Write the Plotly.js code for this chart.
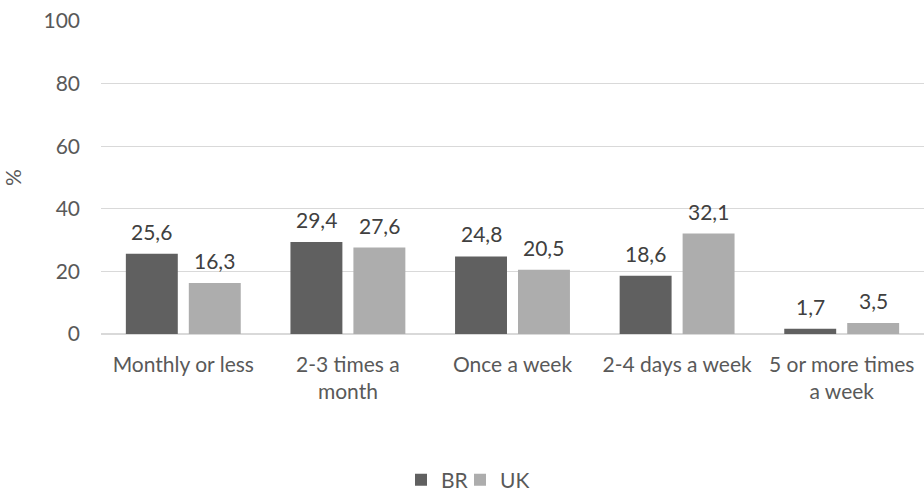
<!DOCTYPE html>
<html>
<head>
<meta charset="utf-8">
<script src="https://cdn.plot.ly/plotly-3.0.1.min.js"></script>
<style>
  html, body { margin: 0; padding: 0; background: #ffffff; }
  #chart { width: 924px; height: 493px; }
</style>
</head>
<body>
<div id="chart"></div>
<script>
// Drinking frequency, share of respondents (%)
const categories = [
  'Monthly or less',
  '2-3 times a<br>month',
  'Once a week',
  '2-4 days a week',
  '5 or more times<br>a week'
];
const brValues = [25.6, 29.4, 24.8, 18.6, 1.7];
const ukValues = [16.3, 27.6, 20.5, 32.1, 3.5];
const yTicks = [0, 20, 40, 60, 80, 100];

const W = 924, H = 493;
const margin = { l: 101, r: 0, t: 21, b: 159 };
const bargap = 0.235;
const bargroupgap = 0.175;
const FONT = 'Lato, "Open Sans", sans-serif';

// horizontal offset of each bar's centre from its category centre
const catW = (W - margin.l - margin.r) / categories.length;
const slotW = catW * (1 - bargap) / 2;
const barShift = slotW / 2;

const fmt = v => v.toFixed(1).replace('.', ',');

function labels(values, shift) {
  return values.map((v, i) => ({
    x: categories[i], y: v, xref: 'x', yref: 'y',
    text: fmt(v), showarrow: false,
    xshift: shift, yshift: 8, yanchor: 'bottom',
    font: { family: FONT, size: 21, color: '#404040' }
  }));
}

const traces = [
  {
    type: 'bar', name: 'BR', x: categories, y: brValues,
    marker: { color: '#606060' }, hoverinfo: 'skip', legend: 'legend'
  },
  {
    type: 'bar', name: 'UK', x: categories, y: ukValues,
    marker: { color: '#adadad' }, hoverinfo: 'skip', legend: 'legend2'
  }
];

// one legend per series so the two entries sit close together
function legendAt(left) {
  return {
    orientation: 'h', xref: 'container', yref: 'container',
    x: left / W, xanchor: 'left', y: 0.026, yanchor: 'middle',
    font: { family: FONT, size: 21, color: '#595959' },
    itemwidth: 30, bgcolor: 'rgba(0,0,0,0)'
  };
}

const layout = {
  width: W, height: H,
  margin: margin,
  paper_bgcolor: '#ffffff', plot_bgcolor: '#ffffff',
  barmode: 'group', bargap: bargap, bargroupgap: bargroupgap,
  font: { family: FONT, size: 21, color: '#595959' },
  xaxis: {
    type: 'category', showgrid: false, zeroline: false,
    showline: false, ticks: '', automargin: false, ticklabelstandoff: 16,
    tickfont: { family: FONT, size: 21, color: '#595959' }
  },
  yaxis: {
    range: [0, 100], tickvals: yTicks, ticktext: yTicks.map(String),
    showgrid: true, gridcolor: '#d9d9d9', gridwidth: 1.3,
    zeroline: true, zerolinecolor: '#d9d9d9', zerolinewidth: 1.3,
    showline: false, ticks: '', ticklabelstandoff: 20, automargin: false,
    tickfont: { family: FONT, size: 21, color: '#595959' },
    title: { text: '%', standoff: 24, font: { family: FONT, size: 21, color: '#595959' } }
  },
  showlegend: true,
  legend: legendAt(401),
  legend2: legendAt(460),
  annotations: labels(brValues, -barShift).concat(labels(ukValues, barShift))
};

Plotly.newPlot('chart', traces, layout, { staticPlot: true, displayModeBar: false });
</script>
</body>
</html>
